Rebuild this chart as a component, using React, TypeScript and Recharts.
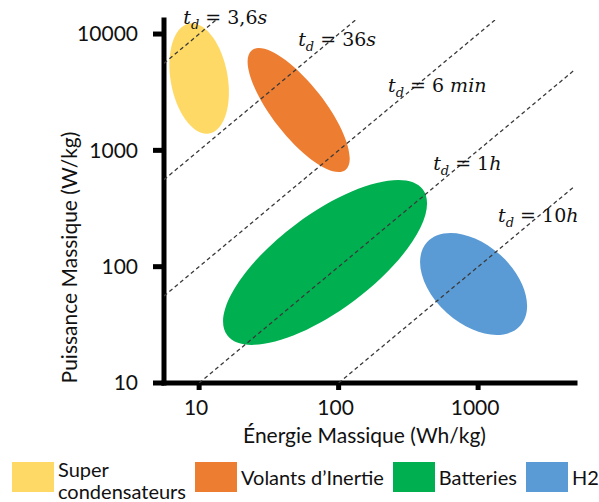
import React from "react";
import { ComposedChart, XAxis, YAxis, Scatter, ReferenceDot, ReferenceLine } from "recharts";

const FONT = "Lato, 'Liberation Sans', sans-serif";
const MATH_FONT = "'DejaVu Serif', 'Liberation Serif', serif";

// axes (Wh/kg on x, W/kg on y), both log
const energyTicks = [10, 100, 1000];
const powerTicks = [10, 100, 1000, 10000];
const energyDomain = [5.6, 4950];
const powerDomain = [10, 13200];

// discharge times t_d, in hours, and how they are written
const dischargeHours = [0.001, 0.01, 0.1, 1, 10];
const dischargeNames = ["3,6s", "36s", "6 min", "1h", "10h"];
// where each t_d label starts (energy, power)
const labelEnergy = [7.7, 51.3, 226, 476, 1391];
const labelPower = [12190, 7880, 3170, 678, 242];

const technologies = ["Super condensateurs", "Volants d’Inertie", "Batteries", "H2"];
const techColors = ["#FFD966", "#ED7D31", "#00B050", "#5B9BD5"];

// each region: the ends of its two axes, going round (energy, power)
const superCaps = [
  { e: 8.48, p: 12310 },
  { e: 15.9, p: 4580 },
  { e: 11.8, p: 1395 },
  { e: 6.3, p: 3750 },
];
const flywheels = [
  { e: 23.9, p: 7270 },
  { e: 36.8, p: 1620 },
  { e: 111.9, p: 679 },
  { e: 72.5, p: 3050 },
];
const batteries = [
  { e: 402, p: 460 },
  { e: 128.5, p: 50.7 },
  { e: 15.9, p: 25.7 },
  { e: 49.8, p: 233 },
];
const hydrogen = [
  { e: 2003, p: 31.1 },
  { e: 601, p: 39.7 },
  { e: 430, p: 162 },
  { e: 1433, p: 127 },
];
const regions = [superCaps, flywheels, batteries, hydrogen];

// d3 curve: draws the ellipse through the 4 axis ends it receives
const K = 0.5523;
const ellipseCurve = (ctx: any) => {
  let pts: number[][] = [];
  return {
    areaStart() {},
    areaEnd() {},
    lineStart() {
      pts = [];
    },
    point(x: number, y: number) {
      pts.push([x, y]);
    },
    lineEnd() {
      if (pts.length < 4) return;
      const [p0, p1, p2, p3] = pts;
      const cx = (p0[0] + p2[0]) / 2;
      const cy = (p0[1] + p2[1]) / 2;
      const a = [(p0[0] - p2[0]) / 2, (p0[1] - p2[1]) / 2];
      const b = [(p1[0] - p3[0]) / 2, (p1[1] - p3[1]) / 2];
      const dirs = [a, b, [-a[0], -a[1]], [-b[0], -b[1]], a];
      ctx.moveTo(cx + a[0], cy + a[1]);
      for (let i = 0; i < 4; i++) {
        const u = dirs[i];
        const v = dirs[i + 1];
        ctx.bezierCurveTo(
          cx + u[0] + K * v[0],
          cy + u[1] + K * v[1],
          cx + v[0] + K * u[0],
          cy + v[1] + K * u[1],
          cx + v[0],
          cy + v[1]
        );
      }
      ctx.closePath();
    },
  };
};

// t_d lines run across the plot, P = E / t
const dischargeLine = (t: number) => {
  const e0 = Math.max(energyDomain[0], powerDomain[0] * t);
  const e1 = Math.min(energyDomain[1], powerDomain[1] * t);
  return [
    { e: e0, p: e0 / t },
    { e: e1, p: e1 / t },
  ];
};

const noPoint = () => <g />;

const TdLabel = ({ cx, cy, name }: any) => {
  const m = name.match(/^([\d,\s]*)(.*)$/);
  return (
    <text x={cx} y={cy} fontFamily={MATH_FONT} fontSize={19} fill="#111">
      <tspan fontStyle="italic">t</tspan>
      <tspan fontStyle="italic" fontSize={13} dy={5}>
        d
      </tspan>
      <tspan dy={-5}>{" = " + m[1]}</tspan>
      <tspan fontStyle="italic">{m[2]}</tspan>
    </text>
  );
};

const XTick = ({ x, y, payload }: any) => (
  <g>
    <rect x={x - 2.5} y={y} width={5} height={7} fill="#000" />
    <text
      x={x - 3}
      y={y + 17}
      dy="0.71em"
      textAnchor="middle"
      fontFamily={FONT}
      fontSize={21}
      fill="#111"
    >
      {payload.value}
    </text>
  </g>
);

const YTick = ({ x, y, payload }: any) => (
  <g>
    <rect x={x - 11} y={y - 2.5} width={11} height={5} fill="#000" />
    <text
      x={x - 26}
      y={y}
      dy="0.355em"
      textAnchor="end"
      fontFamily={FONT}
      fontSize={21}
      fill="#111"
    >
      {payload.value}
    </text>
  </g>
);

const XTitle = ({ viewBox }: any) => (
  <text
    x={viewBox.x + viewBox.width / 2 - 5}
    y={viewBox.y + 60}
    textAnchor="middle"
    fontFamily={FONT}
    fontSize={21}
    fill="#111"
  >
    Énergie Massique (Wh/kg)
  </text>
);

const YTitle = ({ viewBox }: any) => {
  const x = viewBox.x + 77;
  const y = viewBox.y + viewBox.height / 2 + 56;
  return (
    <text
      x={x}
      y={y}
      transform={`rotate(-90, ${x}, ${y})`}
      textAnchor="middle"
      fontFamily={FONT}
      fontSize={21}
      fill="#111"
    >
      Puissance Massique (W/kg)
    </text>
  );
};

const thickLine = (p: any) => (
  <line
    x1={p.x1}
    y1={p.y1}
    x2={p.x2}
    y2={p.y2}
    stroke="#000"
    strokeWidth={5}
    strokeLinecap="square"
  />
);

const App = () => {
  return (
    <div
      style={{
        position: "absolute",
        left: 0,
        top: 0,
        width: 599,
        height: 502,
        background: "#fff",
        overflow: "hidden",
      }}
    >
      <ComposedChart
        width={599}
        height={502}
        margin={{ top: 20, right: 24, bottom: 59, left: 0 }}
      >
        <XAxis
          type="number"
          dataKey="e"
          scale="log"
          domain={energyDomain}
          allowDataOverflow
          ticks={energyTicks}
          height={60}
          axisLine={false}
          tickLine={false}
          tickSize={0}
          tickMargin={0}
          tick={<XTick />}
          label={<XTitle />}
        />
        <YAxis
          type="number"
          dataKey="p"
          scale="log"
          domain={powerDomain}
          allowDataOverflow
          ticks={powerTicks}
          width={164}
          axisLine={false}
          tickLine={false}
          tickSize={0}
          tickMargin={0}
          tick={<YTick />}
          label={<YTitle />}
        />
        {regions.map((r, i) => (
          <Scatter
            key={technologies[i]}
            name={technologies[i]}
            data={r}
            fill={techColors[i]}
            line={{ fill: techColors[i], stroke: "none" }}
            lineJointType={ellipseCurve as any}
            shape={noPoint}
            isAnimationActive={false}
          />
        ))}
        {dischargeHours.map((t) => (
          <Scatter
            key={"td" + t}
            data={dischargeLine(t)}
            fill="none"
            line={{ stroke: "#3a3a3a", strokeWidth: 1.3, strokeDasharray: "4 3" }}
            lineJointType="linear"
            shape={noPoint}
            isAnimationActive={false}
          />
        ))}
        <ReferenceLine x={energyDomain[0]} ifOverflow="visible" shape={thickLine} />
        <ReferenceLine y={powerDomain[0]} ifOverflow="visible" shape={thickLine} />
        {dischargeNames.map((n, i) => (
          <ReferenceDot
            key={n}
            x={labelEnergy[i]}
            y={labelPower[i]}
            ifOverflow="visible"
            shape={(p: any) => <TdLabel cx={p.cx} cy={p.cy} name={n} />}
          />
        ))}
      </ComposedChart>
      <div
        style={{
          position: "absolute",
          left: 12,
          top: 462,
          display: "flex",
          gap: 9,
          fontFamily: FONT,
          fontSize: 20,
          color: "#111",
        }}
      >
        {technologies.map((name, i) => (
          <div key={name} style={{ display: "flex", alignItems: "flex-start" }}>
            <div style={{ width: 42, height: 30, background: techColors[i] }} />
            <div
              style={{
                marginLeft: 4,
                lineHeight: i === 0 ? "22px" : "30px",
                marginTop: i === 0 ? -4 : 0,
                width: i === 0 ? 128 : undefined,
              }}
            >
              {name}
            </div>
          </div>
        ))}
      </div>
    </div>
  );
};

export default App;
